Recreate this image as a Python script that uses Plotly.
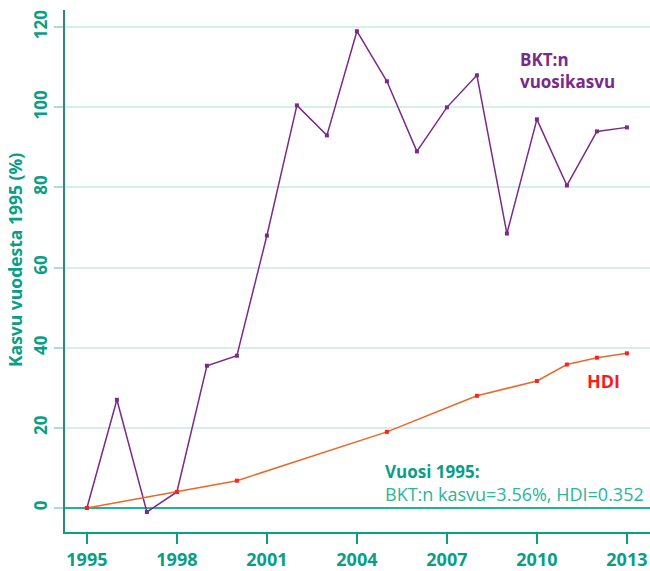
import plotly.graph_objects as go

gdp_years = list(range(1995, 2014))
gdp_values = [0, 27, -1, 4, 35.5, 38, 68, 100.5, 93, 119, 106.5, 89, 100, 108, 68.5, 97, 80.5, 94, 95]
hdi_years = [1995, 1998, 2000, 2005, 2008, 2010, 2011, 2012, 2013]
hdi_values = [0, 4, 6.8, 19, 28, 31.7, 35.8, 37.5, 38.6]
x_ticks = [1995, 1998, 2001, 2004, 2007, 2010, 2013]
y_ticks = [0, 20, 40, 60, 80, 100, 120]

TEAL = "#0a9e86"
FONT = "Open Sans"

fig = go.Figure()
fig.add_trace(go.Scatter(x=gdp_years, y=gdp_values, mode="lines+markers",
                         line=dict(color="#7a2a88", width=1.5),
                         marker=dict(symbol="square", size=4, color="#7a2a88"),
                         showlegend=False, hoverinfo="skip"))
fig.add_trace(go.Scatter(x=hdi_years, y=hdi_values, mode="lines+markers",
                         line=dict(color="#e8692a", width=1.5),
                         marker=dict(symbol="square", size=4, color="#ff2020"),
                         showlegend=False, hoverinfo="skip"))

fig.update_layout(
    width=650, height=571,
    margin=dict(l=65, r=0, t=10, b=39, autoexpand=False),
    plot_bgcolor="white", paper_bgcolor="white",
    font=dict(family=FONT, color=TEAL),
    xaxis=dict(range=[1994.27, 2013.77], tickvals=x_ticks, showgrid=False,
               automargin=False,
               showline=True, linecolor=TEAL, linewidth=2,
               ticks="outside", ticklen=10, tickcolor=TEAL, tickwidth=1.5,
               tickfont=dict(family=FONT, size=18, color=TEAL, weight="bold"),
               zeroline=False),
    yaxis=dict(range=[-6, 124.3], tickvals=y_ticks, showgrid=True,
               automargin=False,
               gridcolor="#d6efea", gridwidth=1.5,
               showline=True, linecolor="#2a8a7a", linewidth=2,
               ticks="outside", ticklen=9, tickcolor="#a9ddd3", tickwidth=1.5,
               tickangle=-90,
               tickfont=dict(family=FONT, size=17, color=TEAL, weight="bold"),
               zeroline=True, zerolinecolor="#20b29a", zerolinewidth=1.5),
)

fig.add_annotation(x=0, y=0.521, xref="paper", yref="paper", xshift=-50,
                   text="Kasvu vuodesta 1995 (%)", textangle=-90, showarrow=False,
                   xanchor="center", yanchor="middle",
                   font=dict(family=FONT, size=17.5, color=TEAL, weight="bold"))
fig.add_annotation(x=2009.44, y=109.3, xref="x", yref="y", text="BKT:n<br>vuosikasvu",
                   showarrow=False, xanchor="left", yanchor="middle", align="left", xshift=-2,
                   font=dict(family=FONT, size=17, color="#7a2a88", weight="bold"))
fig.add_annotation(x=2011.67, y=31.8, xref="x", yref="y", text="HDI",
                   showarrow=False, xanchor="left", yanchor="middle", xshift=-2,
                   font=dict(family=FONT, size=18, color="#ff1a1a", weight="bold"))
fig.add_annotation(x=2004.94, y=9.1, xref="x", yref="y", text="Vuosi 1995:",
                   showarrow=False, xanchor="left", yanchor="middle", xshift=-2,
                   font=dict(family=FONT, size=17, color=TEAL, weight="bold"))
fig.add_annotation(x=2004.94, y=3.5, xref="x", yref="y", text="BKT:n kasvu=3.56%, HDI=0.352",
                   showarrow=False, xanchor="left", yanchor="middle", xshift=-2,
                   font=dict(family=FONT, size=18, color="#2ab59c"))

fig.write_html("out.html", config={"displayModeBar": False},
               post_script="document.body.style.margin='0';document.body.style.overflow='hidden';")
